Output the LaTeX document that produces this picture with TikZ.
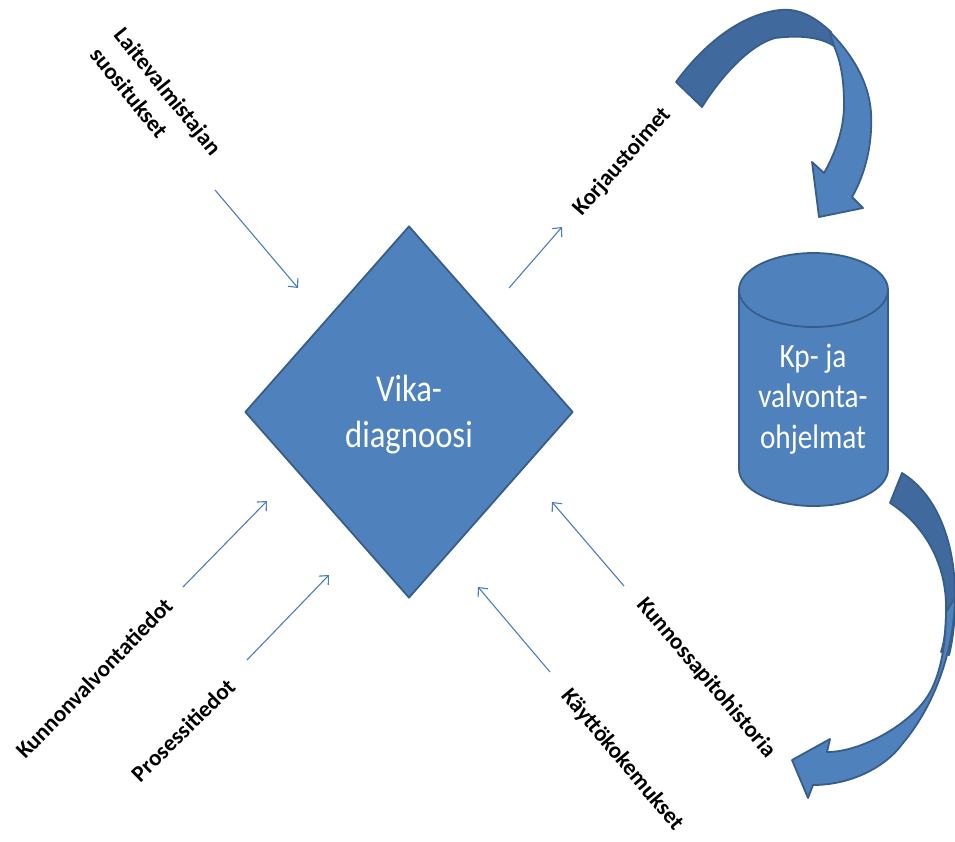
\documentclass[tikz,border=0pt]{standalone}
\usepackage{fontspec}
\setmainfont{Carlito}
\usetikzlibrary{shapes.geometric,arrows.meta}
\definecolor{boxfill}{RGB}{79,129,189}
\definecolor{boxline}{RGB}{56,93,138}
\definecolor{bandback}{RGB}{64,106,158}
\definecolor{feed}{RGB}{74,126,187}

\begin{document}
\begin{tikzpicture}[x=1pt,y=-1pt,
  feedarrow/.style={draw=feed, line width=1.1pt, -{Straight Barb[length=7pt,width=13pt]}},
  lbl/.style={font=\bfseries\fontsize{23}{31}\selectfont, inner sep=0pt},
  shapetext/.style={text=white, align=center, inner sep=0pt},
  outline/.style={draw=boxline, line width=1.8pt, line join=round}]

\useasboundingbox (0,0) rectangle (955,841);

% central decision diamond
\node[diamond, fill=boxfill, outline, minimum width=328pt, minimum height=372pt, inner sep=0pt] (diag) at (409,412) {};
\node[shapetext, xscale=0.86, font=\fontsize{38}{46}\selectfont] (diagtxt) at (409,415) {Vika-\\diagnoosi};

% database cylinder
\path[fill=boxfill, outline] (739,290) -- (739,469)
  .. controls (739,489.4) and (772.35,506) .. (813.5,506)
  .. controls (854.65,506) and (888,489.4) .. (888,469) -- (888,290)
  .. controls (888,269.6) and (854.65,253) .. (813.5,253)
  .. controls (772.35,253) and (739,269.6) .. (739,290) -- cycle;
\draw[outline] (739,290) .. controls (739,310.4) and (772.35,327) .. (813.5,327)
  .. controls (854.65,327) and (888,310.4) .. (888,290);
\node[shapetext, xscale=0.86, font=\fontsize{34}{40.5}\selectfont] (cyl) at (813,399) {Kp- ja\\valvonta-\\ohjelmat};

% upper curved arrow: back band, then front band with head
\path[fill=bandback, outline] (676,82) .. controls (698,52) and (735,15) .. (780,10)
  .. controls (800,8) and (816,18) .. (831,32) -- (834,46)
  .. controls (820,37) and (800,35) .. (775,38)
  .. controls (750,45) and (722,75) .. (702,107) -- cycle;
\path[fill=boxfill, outline] (829,31) .. controls (850,52) and (869,80) .. (871,113)
  .. controls (873,150) and (862,180) .. (852,197) -- (863,208) -- (819,217) -- (812,162) -- (824,173)
  .. controls (836,152) and (844,128) .. (844,105)
  .. controls (844,80) and (841,62) .. (834,46) -- cycle;

% lower curved arrow: back band, then front band with head
\path[fill=bandback, outline] (902,473) .. controls (938,495) and (956,545) .. (955,600)
  .. controls (955,620) and (953,640) .. (949,655) -- (941,652)
  .. controls (945,640) and (946,625) .. (946,610)
  .. controls (947,565) and (925,525) .. (890,503) -- cycle;
\path[fill=boxfill, outline] (955,598) .. controls (954,650) and (935,705) .. (903,743)
  .. controls (885,768) and (850,785) .. (813,785) -- (808,798) -- (792,760) -- (830,739) -- (827,752)
  .. controls (860,752) and (905,727) .. (925,700)
  .. controls (940,680) and (946,645) .. (946,612) -- cycle;

% end points of the input/output arrows
\coordinate (a1s) at (215,190); \coordinate (a1e) at (298,288);
\coordinate (a2s) at (509,288); \coordinate (a2e) at (562,227);
\coordinate (a3s) at (183,587); \coordinate (a3e) at (267,501);
\coordinate (a4s) at (247,660); \coordinate (a4e) at (329,575);
\coordinate (a5s) at (550,672); \coordinate (a5e) at (478,587);
\coordinate (a6s) at (624,586); \coordinate (a6e) at (552,502);

\draw[feedarrow] (a1s) -- (a1e);
\draw[feedarrow] (a2s) -- (a2e);
\draw[feedarrow] (a3s) -- (a3e);
\draw[feedarrow] (a4s) -- (a4e);
\draw[feedarrow] (a5s) -- (a5e);
\draw[feedarrow] (a6s) -- (a6e);

% labels
\node[lbl, rotate=-51, align=left] (l1) at (156,101) {Laitevalmistajan\\suositukset};
\node[lbl, rotate=48.6] (l2) at (622,162) {Korjaustoimet};
\node[lbl, rotate=45.7] (l3) at (94,678) {Kunnonvalvontatiedot};
\node[lbl, rotate=44.5] (l4) at (183,730) {Prosessitiedot};
\node[lbl, rotate=-49.7] (l5) at (706,678) {Kunnossapitohistoria};
\node[lbl, rotate=-50] (l6) at (622,760) {Käyttökokemukset};
\end{tikzpicture}
\end{document}
